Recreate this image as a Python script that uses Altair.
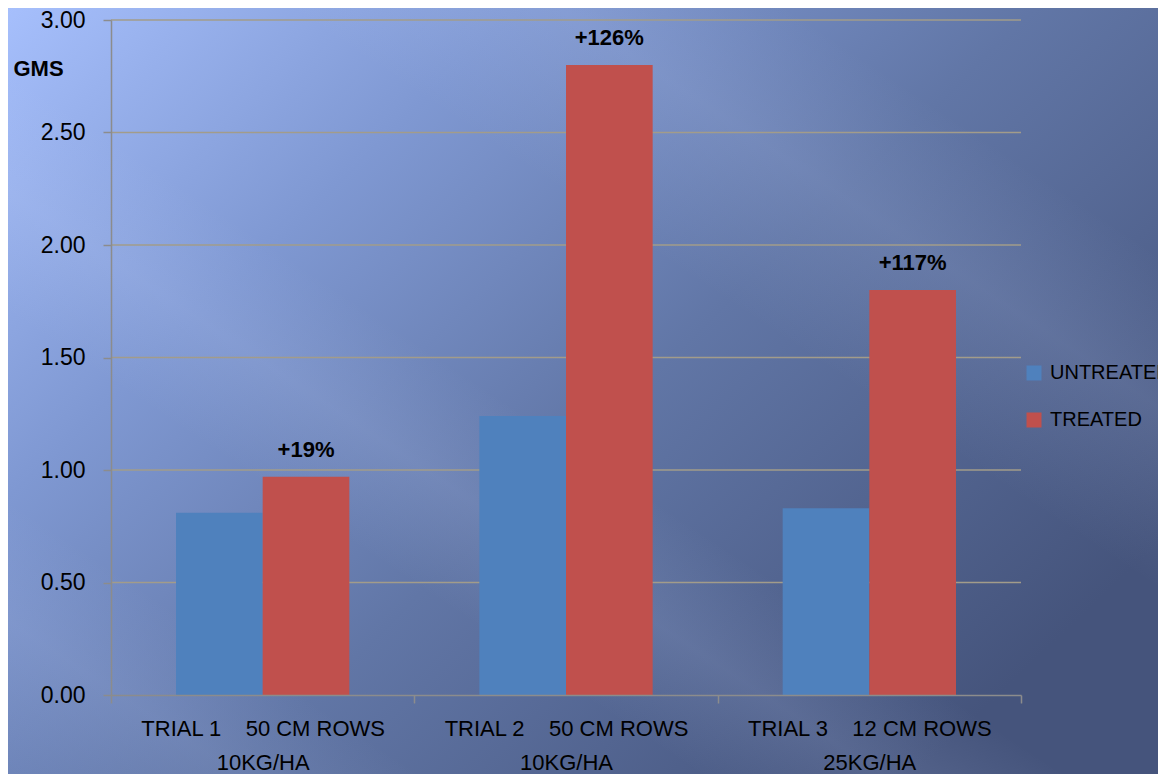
import altair as alt
import pandas as pd

# ---- data ----
trials = ["TRIAL 1\u00a0\u00a0\u00a0\u00a050 CM ROWS|10KG/HA",
          "TRIAL 2\u00a0\u00a0\u00a0\u00a050 CM ROWS|10KG/HA",
          "TRIAL 3\u00a0\u00a0\u00a0\u00a012 CM ROWS|25KG/HA"]
series = ["UNTREATED", "TREATED"]
untreated = [0.81, 1.24, 0.83]
treated = [0.97, 2.80, 1.80]
increase = ["+19%", "+126%", "+117%"]
y_ticks = [0, 0.5, 1.0, 1.5, 2.0, 2.5, 3.0]

rows = []
for t, u, tr, inc in zip(trials, untreated, treated, increase):
    rows.append({"trial": t, "series": "UNTREATED", "value": u, "label": ""})
    rows.append({"trial": t, "series": "TREATED", "value": tr, "label": inc})
df = pd.DataFrame(rows)
grid_df = pd.DataFrame({"value": y_ticks[1:]})

FONT = "Liberation Sans"
W, H = 910, 675
PL, PT, PR, PB = 103, 12, 137, 79

# ---- background (decoration) ----
bg_base = {
    "gradient": "linear", "x1": 0, "y1": 0, "x2": 1, "y2": 0.7,
    "stops": [
        {"offset": 0.0, "color": "#a6bffc"},
        {"offset": 0.3, "color": "#7f98d2"},
        {"offset": 0.6, "color": "#6176a6"},
        {"offset": 1.0, "color": "#45547c"},
    ],
}
bg_streak = {
    "gradient": "linear", "x1": 0, "y1": 1, "x2": 1, "y2": 0,
    "stops": [
        {"offset": 0.00, "color": "rgba(200,215,255,0)"},
        {"offset": 0.10, "color": "rgba(200,215,255,0.10)"},
        {"offset": 0.18, "color": "rgba(200,215,255,0)"},
        {"offset": 0.30, "color": "rgba(200,215,255,0)"},
        {"offset": 0.38, "color": "rgba(200,215,255,0.12)"},
        {"offset": 0.46, "color": "rgba(200,215,255,0)"},
        {"offset": 0.62, "color": "rgba(200,215,255,0)"},
        {"offset": 0.74, "color": "rgba(200,215,255,0.12)"},
        {"offset": 0.84, "color": "rgba(200,215,255,0)"},
        {"offset": 1.00, "color": "rgba(200,215,255,0)"},
    ],
}
one = pd.DataFrame({"k": [0]})
bg_pos = dict(x=alt.value(-PL), x2=alt.value(W + PR),
              y=alt.value(-PT), y2=alt.value(H + PB))
bg1 = alt.Chart(one).mark_rect(fill=bg_base, clip=False).encode(**bg_pos)
bg2 = alt.Chart(one).mark_rect(fill=bg_streak, clip=False).encode(**bg_pos)

y_scale = alt.Scale(domain=[0, 3], nice=False)
y_axis = alt.Axis(values=y_ticks, format=".2f", labelFont=FONT,
                  labelFontSize=23, labelColor="#000000",
                  labelPadding=18, tickSize=8, tickColor="#8c8c8c",
                  domainColor="#8c8c8c", domainWidth=1.5, tickWidth=1.5,
                  grid=False, zindex=1,
                  titleAngle=0, titleX=-98, titleY=48, titleAlign="left",
                  titleBaseline="middle", titleFont=FONT,
                  titleFontSize=22, titleFontWeight="bold",
                  titleColor="#000000")

def y_enc():
    return alt.Y("value:Q", title="GMS", scale=y_scale, axis=y_axis)

grid = alt.Chart(grid_df).mark_rule(color="#a29c8a", strokeWidth=1.5).encode(
    y=y_enc(),
    x=alt.value(0), x2=alt.value(W),
)

x_enc = alt.X("trial:N", sort=trials, title=None,
              scale=alt.Scale(paddingInner=0, paddingOuter=0),
              axis=alt.Axis(labelAngle=0, labelFont=FONT, labelFontSize=22,
                            labelColor="#000000", labelExpr="split(datum.label, '|')",
                            labelLineHeight=34, labelBaseline="top",
                            labelPadding=15, tickSize=8, tickBand="extent",
                            tickColor="#8c8c8c", domainColor="#8c8c8c",
                            domainWidth=1.5, tickWidth=1.5, labelLimit=400,
                            grid=False, zindex=1))
xoff = alt.XOffset("series:N", sort=series,
                   scale=alt.Scale(paddingInner=0, paddingOuter=0.75))

bars = alt.Chart(df).mark_bar().encode(
    x=x_enc,
    xOffset=xoff,
    y=y_enc(),
    color=alt.Color("series:N", sort=series,
                    scale=alt.Scale(domain=series, range=["#4f81bd", "#c0504d"]),
                    legend=alt.Legend(title=None, orient="none", legendX=913,
                                      legendY=343, symbolType="square",
                                      symbolSize=225, symbolStrokeWidth=0,
                                      labelFont=FONT, labelFontSize=20,
                                      labelColor="#000000", rowPadding=27,
                                      labelOffset=6, labelLimit=300)),
)

labels = alt.Chart(df).transform_filter("datum.label != ''").mark_text(
    font=FONT, fontSize=22, fontWeight="bold", color="#000000",
    baseline="alphabetic", dy=-20,
).encode(
    x=alt.X("trial:N", sort=trials),
    xOffset=alt.XOffset("series:N", sort=series),
    y=y_enc(),
    text="label:N",
)

chart = alt.layer(bg1, bg2, grid, bars, labels).properties(
    width=W, height=H,
    autosize=alt.AutoSizeParams(type="none"),
    padding={"left": PL, "top": PT, "right": PR, "bottom": PB},
    background="#6478a8",
).configure_view(stroke=None)

chart.save("out.html", embed_options={"renderer": "svg", "actions": False})
